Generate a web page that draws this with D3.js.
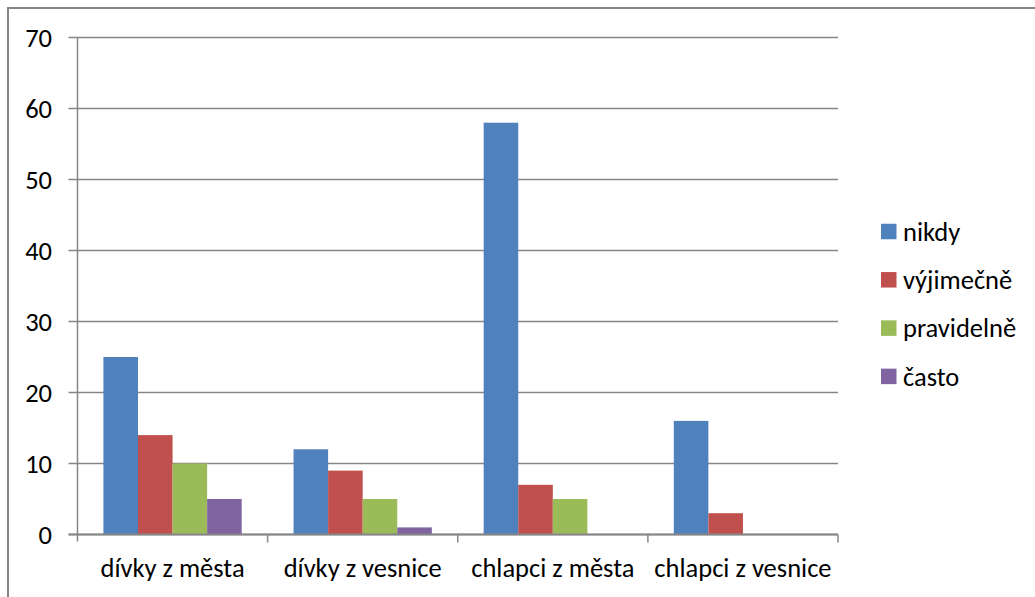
<!DOCTYPE html>
<html>
<head>
<meta charset="utf-8">
<script src="https://cdn.jsdelivr.net/npm/d3@7"></script>
<style>
  body { margin: 0; background: #fff; }
  svg text { font-family: Carlito, "Open Sans", sans-serif; fill: #000; }
</style>
</head>
<body>
<script>
// data
var categories = ["dívky z města", "dívky z vesnice", "chlapci z města", "chlapci z vesnice"];
var seriesNames = ["nikdy", "výjimečně", "pravidelně", "často"];
var nikdy = [25, 12, 58, 16];
var vyjimecne = [14, 9, 7, 3];
var pravidelne = [10, 5, 5, 0];
var casto = [5, 1, 0, 0];
var yTicks = [0, 10, 20, 30, 40, 50, 60, 70];
var colors = ["#4f81bd", "#c0504d", "#9bbb59", "#8064a2"];

var seriesValues = [nikdy, vyjimecne, pravidelne, casto];

// plot area in page pixels
var plot = { left: 77.5, right: 838, top: 37.5, bottom: 534.5 };
var fontSize = "26.5px";

var svg = d3.select("body")
    .append("svg")
    .attr("width", 1035)
    .attr("height", 597);

// outer chart frame (runs off the right / bottom edges)
svg.append("rect")
    .attr("x", 8).attr("y", 8)
    .attr("width", 1100).attr("height", 700)
    .attr("fill", "none")
    .attr("stroke", "#868686")
    .attr("stroke-width", 2);

var x0 = d3.scaleBand()
    .domain(categories)
    .range([plot.left, plot.right]);

// Excel style gap width 150%: bar = category width / 5.5
var barW = x0.bandwidth() / 5.5;
var x1 = d3.scaleBand()
    .domain(seriesNames)
    .range([barW * 0.75, barW * 4.75]);

var y = d3.scaleLinear()
    .domain([0, 70])
    .range([plot.bottom, plot.top]);

// gridlines
svg.append("g")
    .selectAll("line")
    .data(yTicks)
    .enter().append("line")
    .attr("x1", plot.left - 9)
    .attr("x2", plot.right)
    .attr("y1", function (d) { return y(d); })
    .attr("y2", function (d) { return y(d); })
    .attr("stroke", "#868686")
    .attr("stroke-width", 1.5);

// y axis line
svg.append("line")
    .attr("x1", plot.left).attr("x2", plot.left)
    .attr("y1", plot.top).attr("y2", plot.bottom + 7)
    .attr("stroke", "#868686")
    .attr("stroke-width", 1.5);

// y labels
svg.append("g")
    .selectAll("text")
    .data(yTicks)
    .enter().append("text")
    .attr("x", 52)
    .attr("y", function (d) { return y(d); })
    .attr("dy", "0.35em")
    .attr("text-anchor", "end")
    .style("font-size", fontSize)
    .text(function (d) { return d; });

// bars
var groups = svg.append("g")
    .selectAll("g")
    .data(seriesNames)
    .enter().append("g")
    .attr("fill", function (d, i) { return colors[i]; });

groups.selectAll("rect")
    .data(function (s, i) {
        return seriesValues[i].map(function (v, j) {
            return { series: s, cat: categories[j], value: v };
        }).filter(function (d) { return d.value > 0; });
    })
    .enter().append("rect")
    .attr("x", function (d) { return x0(d.cat) + x1(d.series); })
    .attr("width", x1.bandwidth())
    .attr("y", function (d) { return y(d.value); })
    .attr("height", function (d) { return y(0) - y(d.value); });

// x axis line and category ticks
svg.append("line")
    .attr("x1", plot.left - 9).attr("x2", plot.right)
    .attr("y1", plot.bottom).attr("y2", plot.bottom)
    .attr("stroke", "#868686")
    .attr("stroke-width", 2);

var sepTicks = categories.map(function (c) { return x0(c) + x0.bandwidth(); });
svg.append("g")
    .selectAll("line")
    .data(sepTicks)
    .enter().append("line")
    .attr("x1", function (d) { return d; })
    .attr("x2", function (d) { return d; })
    .attr("y1", plot.bottom)
    .attr("y2", plot.bottom + 8)
    .attr("stroke", "#868686")
    .attr("stroke-width", 1.5);

// category labels
svg.append("g")
    .selectAll("text")
    .data(categories)
    .enter().append("text")
    .attr("x", function (d) { return x0(d) + x0.bandwidth() / 2; })
    .attr("y", 577)
    .attr("text-anchor", "middle")
    .style("font-size", fontSize)
    .text(function (d) { return d; });

// legend
var legend = svg.append("g")
    .selectAll("g")
    .data(seriesNames)
    .enter().append("g")
    .attr("transform", function (d, i) { return "translate(881," + (231.5 + i * 48.3) + ")"; });

legend.append("rect")
    .attr("x", 0).attr("y", -7.75)
    .attr("width", 15.5).attr("height", 15.5)
    .attr("fill", function (d, i) { return colors[i]; });

legend.append("text")
    .attr("x", 22)
    .attr("y", 0)
    .attr("dy", "0.35em")
    .style("font-size", fontSize)
    .text(function (d) { return d; });
</script>
</body>
</html>
